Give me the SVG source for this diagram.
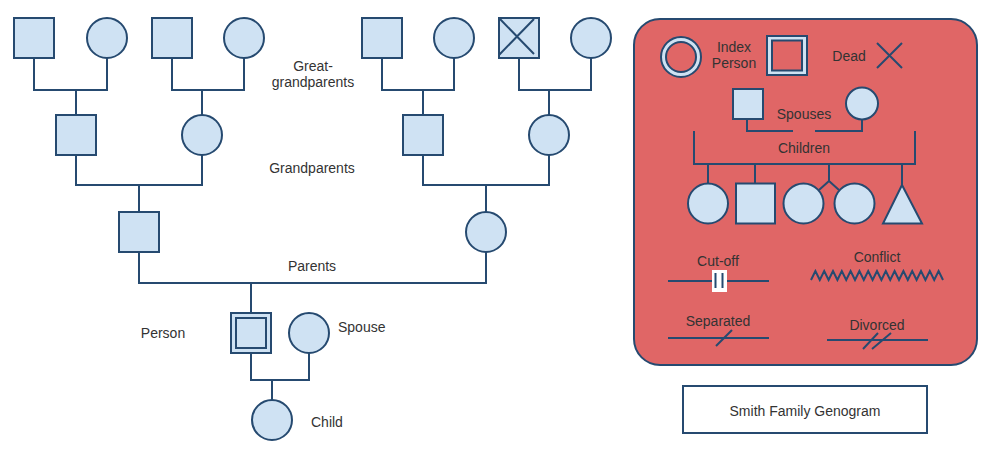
<svg xmlns="http://www.w3.org/2000/svg" width="986" height="452" viewBox="0 0 986 452">
<style>
.n{fill:#cfe2f3;stroke:#264a70;stroke-width:2}
.r{fill:#e06666;stroke:#264a70;stroke-width:2}
.l{fill:none;stroke:#264a70;stroke-width:2}
.t{font-family:"Liberation Sans",Arial,sans-serif;font-size:14px;fill:#333333}
.c{text-anchor:middle}
</style>
<rect width="986" height="452" fill="#ffffff"/>
<g id="connectors">
<path class="l" d="M34 58V90H107V58M76 90V115"/>
<path class="l" d="M172 58V90H244V58M202 90V115"/>
<path class="l" d="M382 58V90H454V58M423 90V115"/>
<path class="l" d="M519 58V90H591V58M549 90V115"/>
<path class="l" d="M76 155V185H202V155M139 185V212"/>
<path class="l" d="M423 155V185H549V155M486 185V212"/>
<path class="l" d="M139 252V283H486V252M251 283V313"/>
<path class="l" d="M251 353V380H309V353M272 380V400"/>
</g>
<g id="ggp1"><rect class="n" x="14" y="18" width="40" height="40"/></g>
<g id="ggm1"><circle class="n" cx="107" cy="38" r="20"/></g>
<g id="ggp2"><rect class="n" x="152" y="18" width="40" height="40"/></g>
<g id="ggm2"><circle class="n" cx="244" cy="38" r="20"/></g>
<g id="ggp3"><rect class="n" x="362" y="18" width="40" height="40"/></g>
<g id="ggm3"><circle class="n" cx="454" cy="38" r="20"/></g>
<g id="ggp4"><rect class="n" x="499" y="18" width="40" height="40"/><path class="l" d="M499 18L534 54M534 19L499 55"/></g>
<g id="ggm4"><circle class="n" cx="591" cy="38" r="20"/></g>
<g id="label-gg"><text class="t c" x="313" y="71">Great-</text><text class="t c" x="313" y="87">grandparents</text></g>
<g id="gp1"><rect class="n" x="56" y="115" width="40" height="40"/></g>
<g id="gm1"><circle class="n" cx="202" cy="135" r="20"/></g>
<g id="gp2"><rect class="n" x="403" y="115" width="40" height="40"/></g>
<g id="gm2"><circle class="n" cx="549" cy="135" r="20"/></g>
<g id="label-gp"><text class="t c" x="312" y="173">Grandparents</text></g>
<g id="father"><rect class="n" x="119" y="212" width="40" height="40"/></g>
<g id="mother"><circle class="n" cx="486" cy="232" r="20"/></g>
<g id="label-parents"><text class="t c" x="312" y="271">Parents</text></g>
<g id="person"><rect class="n" x="231" y="313" width="40" height="40"/><rect class="n" x="236" y="318" width="30" height="30"/></g>
<g id="label-person"><text class="t c" x="163" y="338">Person</text></g>
<g id="spouse"><circle class="n" cx="309" cy="333" r="20"/></g>
<g id="label-spouse"><text class="t" x="338" y="332">Spouse</text></g>
<g id="child"><circle class="n" cx="272" cy="420" r="20"/></g>
<g id="label-child"><text class="t" x="311" y="427">Child</text></g>
<g id="legend">
<rect class="r" x="634" y="19" width="343" height="346" rx="26" ry="26"/>
<circle class="n" cx="681" cy="57" r="20"/>
<circle class="r" cx="681" cy="57" r="15"/>
<text class="t c" x="734" y="52">Index</text>
<text class="t c" x="734" y="68">Person</text>
<rect class="n" x="767" y="36" width="40" height="39"/>
<rect class="r" x="772" y="40.5" width="30" height="30"/>
<text class="t c" x="849" y="61">Dead</text>
<path class="l" d="M877 43L902 68M902 43L877 68"/>
<rect class="n" x="733" y="89" width="30" height="30"/>
<circle class="n" cx="862" cy="103.5" r="16"/>
<path class="l" d="M747 119V131H793M815 131H862V119.5"/>
<text class="t c" x="804" y="119">Spouses</text>
<path class="l" d="M694 131V164H915V131"/>
<text class="t c" x="804" y="153">Children</text>
<path class="l" d="M708 164V183M755 164V183M829 164V181L819 190M829 181L839 190M902 164V185"/>
<circle class="n" cx="708" cy="203.5" r="20"/>
<rect class="n" x="736" y="183.5" width="39" height="40"/>
<circle class="n" cx="803.5" cy="203.5" r="20"/>
<circle class="n" cx="854.5" cy="203.5" r="20"/>
<path class="n" d="M902 185L922 223.5H883Z"/>
<text class="t c" x="718" y="266">Cut-off</text>
<path class="l" d="M668 281H769"/>
<rect x="712" y="270" width="15" height="22" fill="#ffffff"/>
<path class="l" d="M715.5 273V288M722.5 273V288"/>
<text class="t c" x="877" y="262">Conflict</text>
<path class="l" d="M811 280l4.4 -9l4.4 9l4.4 -9l4.4 9l4.4 -9l4.4 9l4.4 -9l4.4 9l4.4 -9l4.4 9l4.4 -9l4.4 9l4.4 -9l4.4 9l4.4 -9l4.4 9l4.4 -9l4.4 9l4.4 -9l4.4 9l4.4 -9l4.4 9l4.4 -9l4.4 9l4.4 -9l4.4 9l4.4 -9l4.4 9l4.4 -9l4.4 9"/>
<text class="t c" x="718" y="326">Separated</text>
<path class="l" d="M668 338H769M716 346L732 330"/>
<text class="t c" x="877" y="330">Divorced</text>
<path class="l" d="M827 340H928M863 349L878 333M872 349L891 333"/>
</g>
<g id="title"><rect x="683" y="386" width="244" height="47" fill="#ffffff" stroke="#264a70" stroke-width="2"/><text class="t c" x="805" y="416">Smith Family Genogram</text></g>
</svg>
